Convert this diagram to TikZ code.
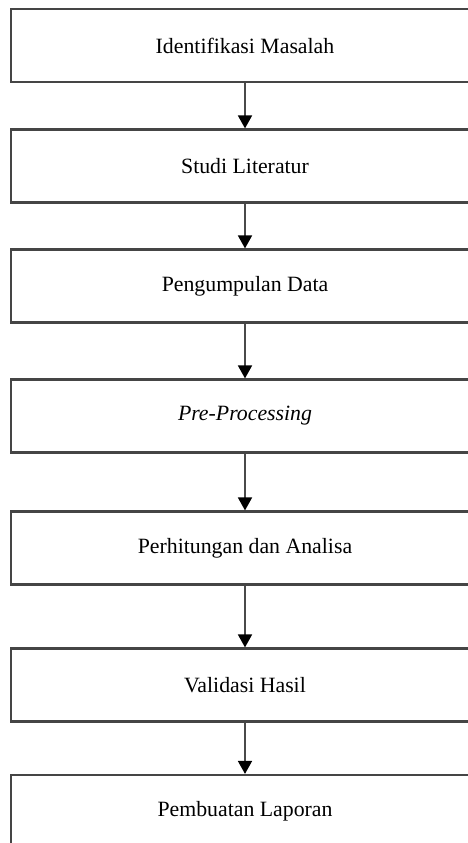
\documentclass[tikz,border=0pt]{standalone}
\usepackage{fontspec}
\setmainfont{Liberation Serif}
\usetikzlibrary{arrows.meta}
\definecolor{boxline}{HTML}{454545}
\definecolor{arrline}{HTML}{4A4A4A}
\begin{document}
\begin{tikzpicture}[x=1pt,y=-1pt,
  stepbox/.style={draw=boxline, line width=2.2pt, fill=white, minimum width=468pt, minimum height=73pt, inner sep=0pt, font=\fontsize{21.8}{26}\selectfont},
  flow/.style={draw=arrline, line width=1.8pt, -{Triangle[width=14pt,length=13pt,fill=black,color=black]}}]
\useasboundingbox (0,0) rectangle (468,843);
\clip (0,0) rectangle (468,843);
\node[stepbox] (b1) at (245,45.5) {Identifikasi Masalah};
\node[stepbox] (b2) at (245,166) {Studi Literatur};
\node[stepbox] (b3) at (245,286) {Pengumpulan Data};
\node[stepbox] (b4) at (245,416) {\textit{Pre-Processing}};
\node[stepbox] (b5) at (245,548) {Perhitungan dan Analisa};
\node[stepbox] (b6) at (245,685) {Validasi Hasil};
\node[stepbox] (b7) at (245,811.5) {Pembuatan Laporan};
\draw[flow] (b1) -- (b2);
\draw[flow] (b2) -- (b3);
\draw[flow] (b3) -- (b4);
\draw[flow] (b4) -- (b5);
\draw[flow] (b5) -- (b6);
\draw[flow] (b6) -- (b7);
\end{tikzpicture}
\end{document}
